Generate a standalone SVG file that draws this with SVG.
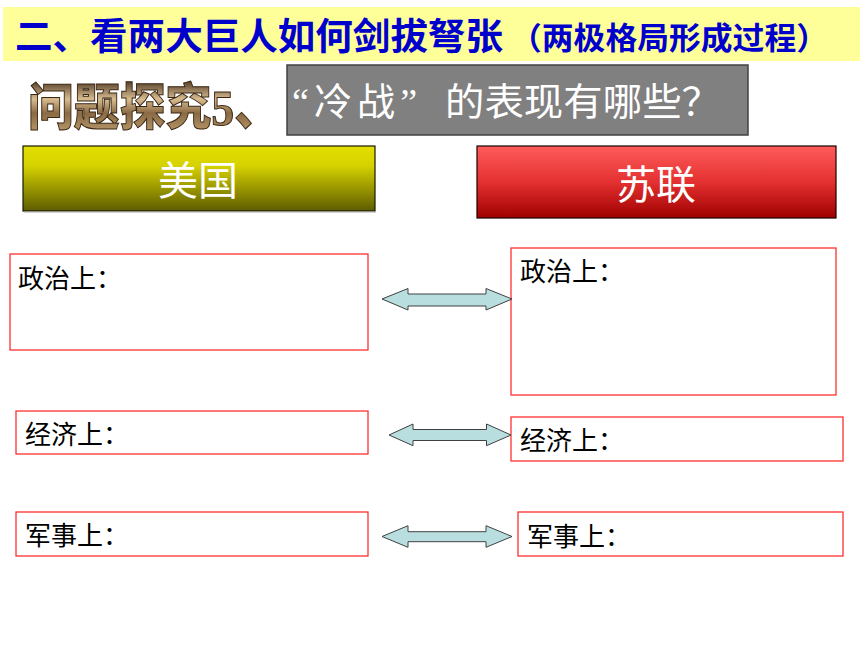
<svg xmlns="http://www.w3.org/2000/svg" width="860" height="645" viewBox="0 0 860 645">
<defs>
  <linearGradient id="gUS" x1="0" y1="0" x2="0" y2="1">
    <stop offset="0" stop-color="#E2DE00"/>
    <stop offset="0.3" stop-color="#D6D200"/>
    <stop offset="1" stop-color="#5E5C00"/>
  </linearGradient>
  <linearGradient id="gSU" x1="0" y1="0" x2="0" y2="1">
    <stop offset="0" stop-color="#FF5C5C"/>
    <stop offset="0.5" stop-color="#E43030"/>
    <stop offset="1" stop-color="#A00000"/>
  </linearGradient>
  <linearGradient id="gBronze" x1="0" y1="0" x2="0" y2="1">
    <stop offset="0" stop-color="#4a3420"/>
    <stop offset="0.35" stop-color="#d8bc90"/>
    <stop offset="0.6" stop-color="#8a6a44"/>
    <stop offset="1" stop-color="#c0a070"/>
  </linearGradient>
  <style>
    .cjk { font-family: "Noto Sans CJK SC", "Liberation Sans", sans-serif; }
    .q { font-family: "Liberation Serif", "Noto Sans CJK SC", serif; }
    .label { font-family: "Noto Sans CJK SC", "Liberation Serif", serif; font-size: 26px; fill: #000; }
    .box { fill: #fff; stroke: #FF3030; stroke-width: 1.3; }
    .arrow { fill: #B8DEE0; stroke: #404040; stroke-width: 1; }
    .hdr { font-family: "Noto Sans CJK SC", sans-serif; font-size: 40px; fill: #fff; text-anchor: middle; }
  </style>
</defs>
<rect width="860" height="645" fill="#fff"/>

<g id="title">
  <rect x="3" y="7" width="857" height="54" fill="#FFFF99"/>
  <text class="cjk" x="15" y="50" font-size="37" font-weight="bold" fill="#0000CC" textLength="488" lengthAdjust="spacingAndGlyphs">二、看两大巨人如何剑拔弩张</text>
  <text class="cjk" x="510" y="49" font-size="31" font-weight="bold" fill="#0000CC" textLength="318" lengthAdjust="spacingAndGlyphs">（两极格局形成过程）</text>
</g>

<g id="question">
  <text transform="translate(28,125) scale(1,1.12)" x="0" y="0" font-family="'Liberation Serif', 'Noto Sans CJK SC', serif" font-size="45" font-weight="900" fill="url(#gBronze)" stroke="#3a2612" stroke-width="0.9" textLength="252" lengthAdjust="spacingAndGlyphs">问题探究5、</text>
  <rect x="287" y="65" width="461" height="70" fill="#808080" stroke="#404040" stroke-width="1.5"/>
  <text class="q" x="292" y="115" font-size="38" fill="#fff" textLength="125" lengthAdjust="spacing">“冷战”</text>
  <text class="cjk" x="445" y="115" font-size="38" fill="#fff" textLength="276" lengthAdjust="spacingAndGlyphs">的表现有哪些？</text>
</g>

<g id="us-header">
  <rect x="23" y="146" width="352" height="65" fill="url(#gUS)" stroke="#1a1a00" stroke-width="1.2"/>
  <line x1="24" y1="212" x2="376" y2="212" stroke="#aaaaaa" stroke-width="1"/>
  <text class="hdr" x="198" y="195">美国</text>
</g>

<g id="su-header">
  <rect x="477" y="146" width="359" height="72" fill="url(#gSU)" stroke="#1a0000" stroke-width="1.2"/>
  <text class="hdr" x="656" y="199">苏联</text>
</g>

<g id="us-politics">
  <rect class="box" x="10" y="254" width="358" height="96"/>
  <text class="label" x="18" y="288">政治上：</text>
</g>
<g id="us-economy">
  <rect class="box" x="16" y="411" width="352" height="43"/>
  <text class="label" x="25" y="444">经济上：</text>
</g>
<g id="us-military">
  <rect class="box" x="16" y="512" width="352" height="44"/>
  <text class="label" x="25" y="545">军事上：</text>
</g>

<g id="su-politics">
  <rect class="box" x="511" y="248" width="325" height="147"/>
  <text class="label" x="520" y="281">政治上：</text>
</g>
<g id="su-economy">
  <rect class="box" x="511" y="417" width="332" height="44"/>
  <text class="label" x="520" y="450">经济上：</text>
</g>
<g id="su-military">
  <rect class="box" x="518" y="512" width="325" height="44"/>
  <text class="label" x="527" y="546">军事上：</text>
</g>

<g id="connectors">
  <polygon class="arrow" points="382,299 408,288.5 408,294 486,294 486,288.5 512,299 486,310 486,306 408,306 408,310"/>
  <polygon class="arrow" points="389,435 413,424 413,429.5 486.5,429.5 486.5,424 511,435 486.5,445.7 486.5,440.5 413,440.5 413,445.7"/>
  <polygon class="arrow" points="382,536.5 408,525.7 408,531.7 486,531.7 486,525.7 512,536.5 486,547.3 486,541.7 408,541.7 408,547.3"/>
</g>
</svg>
